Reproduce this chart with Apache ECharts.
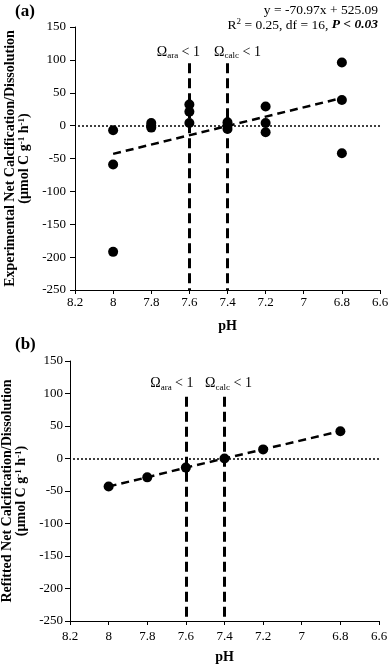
<!DOCTYPE html>
<html><head><meta charset="utf-8">
<script src="https://cdn.jsdelivr.net/npm/echarts@6/dist/echarts.min.js"></script>
<style>html,body{margin:0;padding:0;background:#fff}#c{width:388px;height:664px}</style>
</head><body><div id="c"></div>
<script>
// ---- data ----
const pHTicks = [8.2, 8, 7.8, 7.6, 7.4, 7.2, 7, 6.8, 6.6];
const rateTicks = [150, 100, 50, 0, -50, -100, -150, -200, -250];
const measuredPH = [8, 8, 8, 7.8, 7.8, 7.8, 7.6, 7.6, 7.6, 7.4, 7.4, 7.4, 7.2, 7.2, 7.2, 6.8, 6.8, 6.8];
const measuredRate = [-7, -59, -192, 4, 0, -3, 32, 21, 4, 5, 0, -5, 29, 4, -10, 96, 39, -42];
const fitLinePH = [8, 6.8];
const fitLineRate = [-43, 42];
const refitPH = [8, 7.8, 7.6, 7.4, 7.2, 6.8];
const refitRate = [-43, -29, -14, 0, 14, 42];
const thresholdPH = [7.6, 7.4];
const thresholdNames = ['ara', 'calc'];
const thresholdTop = 95;
const labelLevel = [112, 115];
const eqLine1 = 'y = -70.97x + 525.09';
const eqLine2a = ' = 0.25, df = 16, ';
const eqLine2b = 'P < 0.03';

// ---- build ----
const FONT = 'Liberation Serif';
const zip = (a, b) => a.map((v, i) => [v, b[i]]);
const pMin = Math.min(...pHTicks), pMax = Math.max(...pHTicks);
const rMin = Math.min(...rateTicks), rMax = Math.max(...rateTicks);

function xAxis(gi, margin) {
  return {
    type: 'value', gridIndex: gi, inverse: true, min: pMin, max: pMax, interval: 0.2,
    axisLine: { show: true, onZero: false, lineStyle: { color: '#000', width: 1 } },
    axisTick: { show: true, length: 4, lineStyle: { color: '#000' } },
    axisLabel: { color: '#000', fontFamily: FONT, fontSize: 13, margin: margin,
      formatter: v => String(+(+v).toFixed(1)) },
    splitLine: { show: false },
    name: 'pH', nameLocation: 'middle', nameGap: 29,
    nameTextStyle: { fontWeight: 'bold', fontSize: 14, color: '#000', fontFamily: FONT }
  };
}
function yAxis(gi, title, gap, margin) {
  return {
    type: 'value', gridIndex: gi, min: rMin, max: rMax, interval: 50,
    axisLine: { show: true, lineStyle: { color: '#000', width: 1 } },
    axisTick: { show: true, length: 5, lineStyle: { color: '#000' } },
    axisLabel: { color: '#000', fontFamily: FONT, fontSize: 13, margin: margin },
    splitLine: { show: false },
    name: '{b|' + title + '}\n{b|(µmol C g}{sup|-1}{b| h}{sup|-1}{b|)}',
    nameLocation: 'middle', nameRotate: 90, nameGap: gap,
    nameTextStyle: {
      color: '#000', fontFamily: FONT,
      rich: {
        b: { fontSize: 14, fontWeight: 'bold', fontFamily: FONT, color: '#000', lineHeight: 14 },
        sup: { fontSize: 9, fontWeight: 'bold', fontFamily: FONT, color: '#000', lineHeight: 9, verticalAlign: 'top' }
      }
    }
  };
}
const omegaRich = {
  m: { fontSize: 14, fontFamily: FONT, color: '#000', lineHeight: 17 },
  s: { fontSize: 9, fontFamily: FONT, color: '#000', lineHeight: 10, verticalAlign: 'bottom' }
};
function thresholdSeries(gi, offs) {
  return {
    type: 'line', xAxisIndex: gi, yAxisIndex: gi, data: [], silent: true,
    markLine: {
      silent: true, symbol: 'none', animation: false, label: { show: false },
      lineStyle: { color: '#000', width: 3, type: [10, 5] },
      data: thresholdPH.map(p => [{ coord: [p, thresholdTop] }, { coord: [p, rMin] }])
    },
    markPoint: {
      silent: true, symbol: 'circle', symbolSize: 0, animation: false,
      data: thresholdPH.map((p, i) => ({
        coord: [p, labelLevel[gi]],
        label: {
          show: true, position: 'inside', offset: offs[i],
          formatter: '{m|Ω}{s|' + thresholdNames[i] + '}{m| < 1}', rich: omegaRich
        }
      }))
    }
  };
}
function zeroLine() {
  return {
    silent: true, symbol: 'none', animation: false, label: { show: false },
    lineStyle: { color: '#000', width: 1.5, type: [2, 2] },
    data: [{ yAxis: 0 }]
  };
}

const option = {
  animation: false,
  backgroundColor: '#fff',
  grid: [
    { left: 75, right: 8, top: 27, height: 263, containLabel: false, outerBoundsMode: 'none' },
    { left: 70, right: 9, top: 361, height: 260, containLabel: false, outerBoundsMode: 'none' }
  ],
  xAxis: [xAxis(0, 6), xAxis(1, 9)],
  yAxis: [yAxis(0, 'Experimental Net Calcification/Dissolution', 40, 9), yAxis(1, 'Refitted Net Calcification/Dissolution', 38, 7)],
  graphic: [
    { type: 'text', left: 15, top: 3, style: { text: '(a)', font: 'bold 17px "Liberation Serif"', fill: '#000' } },
    { type: 'text', left: 15, top: 336, style: { text: '(b)', font: 'bold 17px "Liberation Serif"', fill: '#000' } },
    { type: 'text', right: 10, top: 3, style: { text: eqLine1, font: '13.5px "Liberation Serif"', fill: '#000' } },
    { type: 'text', right: 10, top: 17, style: {
        text: '{n|R}{sup|2}{n|' + eqLine2a + '}{bi|' + eqLine2b + '}',
        rich: {
          n: { fontSize: 13.5, fontFamily: FONT, fill: '#000', lineHeight: 16 },
          sup: { fontSize: 9, fontFamily: FONT, fill: '#000', lineHeight: 10, verticalAlign: 'top' },
          bi: { fontSize: 13.5, fontFamily: FONT, fontWeight: 'bold', fontStyle: 'italic', fill: '#000', lineHeight: 16 }
        }
      } }
  ],
  series: [
    {
      type: 'scatter', xAxisIndex: 0, yAxisIndex: 0, data: zip(measuredPH, measuredRate),
      symbol: 'circle', symbolSize: 10, itemStyle: { color: '#000', opacity: 1 }, z: 5,
      markLine: zeroLine()
    },
    {
      type: 'line', xAxisIndex: 0, yAxisIndex: 0, data: zip(fitLinePH, fitLineRate),
      showSymbol: false, symbol: 'none', lineStyle: { color: '#000', width: 2.5, type: [8, 5] }, z: 4
    },
    thresholdSeries(0, [[-11, 0], [10, 0]]),
    {
      type: 'line', xAxisIndex: 1, yAxisIndex: 1, data: zip(refitPH, refitRate),
      symbol: 'circle', symbolSize: 10, showSymbol: true,
      itemStyle: { color: '#000', opacity: 1 }, lineStyle: { color: '#000', width: 2.5, type: [8, 5] }, z: 5,
      markLine: zeroLine()
    },
    thresholdSeries(1, [[-14, 0], [4, 0]])
  ]
};
const chart = echarts.init(document.getElementById('c'), null, { renderer: 'canvas' });
chart.setOption(option);
</script>
</body></html>
